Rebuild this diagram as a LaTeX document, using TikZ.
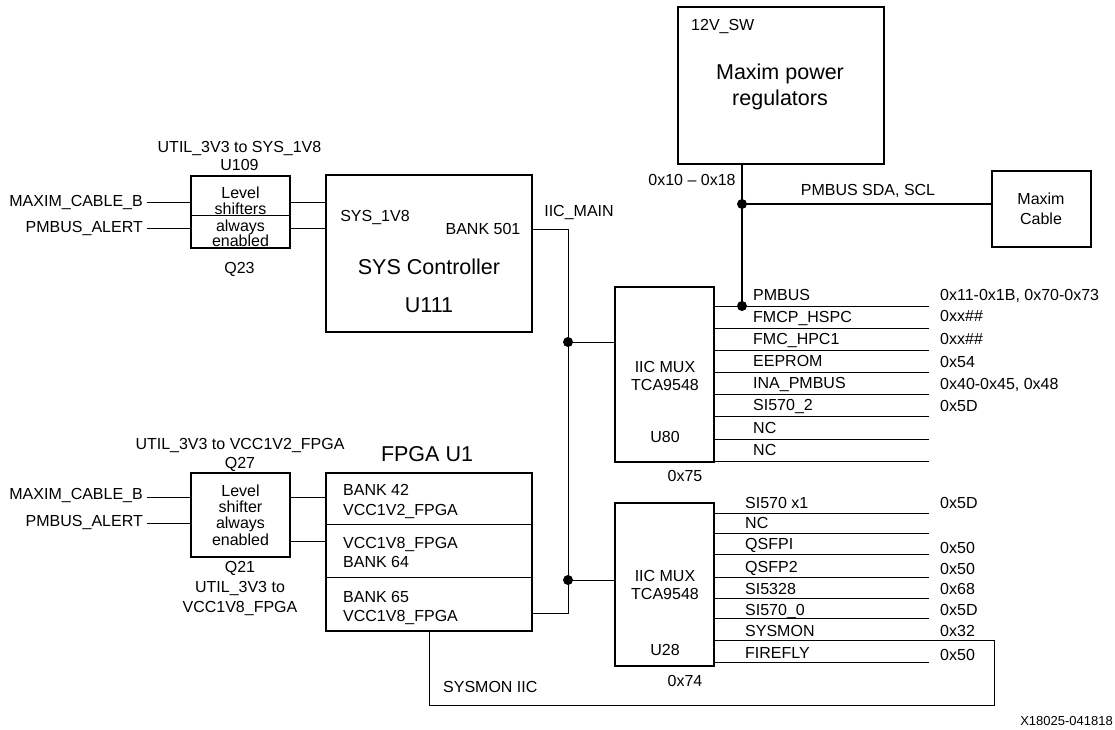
\documentclass[tikz,border=0pt]{standalone}
\usepackage{fontspec}
\setmainfont{Liberation Sans}
\begin{document}
\begin{tikzpicture}[x=1pt,y=-1pt,
  box/.style={draw, line width=2.4pt, inner sep=0pt},
  wire/.style={line width=1pt},
  bus/.style={line width=2.4pt},
  lbl/.style={inner sep=0pt, text height=11.5pt, text depth=0pt, font=\fontsize{16}{17}\selectfont},
  big/.style={inner sep=0pt, text height=15.5pt, text depth=0pt, font=\fontsize{21.5}{24}\selectfont},
  tiny/.style={inner sep=0pt, text height=9.5pt, text depth=0pt, font=\fontsize{13}{15}\selectfont},
  jdot/.style={circle, fill, inner sep=0pt, minimum size=10pt},
]
\useasboundingbox (0,0) rectangle (1115,729);

% ---------- boxes ----------
\node[box, minimum width=206pt, minimum height=157pt] (maxim) at (781,85.5) {};
\node[box, minimum width=99pt, minimum height=76pt] (cable) at (1041.5,209) {};
\node[box, minimum width=99pt, minimum height=72pt] (ls1) at (240.5,212) {};
\node[box, minimum width=206pt, minimum height=157pt] (sys) at (429,253.5) {};
\node[box, minimum width=99pt, minimum height=175pt] (mux1) at (664.5,374.5) {};
\node[box, minimum width=99pt, minimum height=84pt] (ls2) at (240.5,515) {};
\node[box, minimum width=206pt, minimum height=158pt] (fpga) at (429,552) {};
\node[box, minimum width=99pt, minimum height=163pt] (mux2) at (664.5,584.5) {};

% ---------- box texts ----------
\node[lbl, anchor=west] (t12v) at (691,25) {12V\_SW};
\node[big] (tmx1) at (780,72) {Maxim power};
\node[big] (tmx2) at (780,98) {regulators};
\node[lbl] (tcb1) at (1041,199) {Maxim};
\node[lbl] (tcb2) at (1041,219) {Cable};

\node[lbl] (tl1a) at (240.5,193) {Level};
\node[lbl] (tl1b) at (240.5,209) {shifters};
\node[lbl] (tl1c) at (240.5,226) {always};
\node[lbl] (tl1d) at (240.5,241) {enabled};
\draw[wire] (ls1.west |- 0,215) -- (ls1.east |- 0,215);

\node[lbl] (tl2a) at (240.5,491) {Level};
\node[lbl] (tl2b) at (240.5,507) {shifter};
\node[lbl] (tl2c) at (240.5,523) {always};
\node[lbl] (tl2d) at (240.5,540) {enabled};

\node[lbl] (tsys1) at (375,216) {SYS\_1V8};
\node[lbl] (tsys2) at (483,229) {BANK 501};
\node[big] (tsys3) at (429,267) {SYS Controller};
\node[big] (tsys4) at (429,305) {U111};

\node[big] (tfp) at (427,454) {FPGA U1};
\node[lbl, anchor=west] (tf1) at (343,490) {BANK 42};
\node[lbl, anchor=west] (tf2) at (343,510) {VCC1V2\_FPGA};
\node[lbl, anchor=west] (tf3) at (343,543) {VCC1V8\_FPGA};
\node[lbl, anchor=west] (tf4) at (343,562) {BANK 64};
\node[lbl, anchor=west] (tf5) at (343,597) {BANK 65};
\node[lbl, anchor=west] (tf6) at (343,616) {VCC1V8\_FPGA};
\draw[wire] (fpga.west |- 0,524) -- (fpga.east |- 0,524);
\draw[wire] (fpga.west |- 0,577) -- (fpga.east |- 0,577);

\node[lbl] (tm1a) at (665,367) {IIC MUX};
\node[lbl] (tm1b) at (665,385) {TCA9548};
\node[lbl] (tm1c) at (665,437) {U80};
\node[lbl] (tm1d) at (685,476) {0x75};

\node[lbl] (tm2a) at (665,576) {IIC MUX};
\node[lbl] (tm2b) at (665,594) {TCA9548};
\node[lbl] (tm2c) at (665,650) {U28};
\node[lbl] (tm2d) at (685,681) {0x74};

% ---------- outside labels ----------
\node[lbl] (u1a) at (239.5,147) {UTIL\_3V3 to SYS\_1V8};
\node[lbl] (u1b) at (239.5,165) {U109};
\node[lbl] (u1c) at (239.5,268) {Q23};
\node[lbl, anchor=east] (in1a) at (143,201) {MAXIM\_CABLE\_B};
\node[lbl, anchor=east] (in1b) at (143,227) {PMBUS\_ALERT};

\node[lbl] (u2a) at (240,444) {UTIL\_3V3 to VCC1V2\_FPGA};
\node[lbl] (u2b) at (240,463) {Q27};
\node[lbl] (u2c) at (240,567) {Q21};
\node[lbl] (u2d) at (240,587) {UTIL\_3V3 to};
\node[lbl] (u2e) at (240,607) {VCC1V8\_FPGA};
\node[lbl, anchor=east] (in2a) at (143,494) {MAXIM\_CABLE\_B};
\node[lbl, anchor=east] (in2b) at (143,520.5) {PMBUS\_ALERT};

\node[lbl] (tiic) at (579,211) {IIC\_MAIN};
\node[lbl] (taddr) at (692,180) {0x10 -- 0x18};
\node[lbl] (tpmb) at (868,190) {PMBUS SDA, SCL};
\node[lbl, anchor=west] (tsmi) at (443,687) {SYSMON IIC};
\node[tiny, anchor=east] (tid) at (1113,721) {X18025-041818};

% ---------- input wires ----------
\coordinate (a1) at (147,202);
\coordinate (a2) at (147,228);
\coordinate (a3) at (147,497);
\coordinate (a4) at (147,523);
\draw[wire] (a1) -- (ls1.west |- a1);
\draw[wire] (a2) -- (ls1.west |- a2);
\draw[wire] (a3) -- (ls2.west |- a3);
\draw[wire] (a4) -- (ls2.west |- a4);
\draw[wire] (ls1.east |- 0,202) -- (sys.west |- 0,202);
\draw[wire] (ls1.east |- 0,228) -- (sys.west |- 0,228);
\draw[wire] (ls2.east |- 0,497) -- (fpga.west |- 0,497);
\draw[wire] (ls2.east |- 0,541) -- (fpga.west |- 0,541);

% ---------- IIC main ----------
\coordinate (jt) at (568,229);
\coordinate (j1) at (568,342);
\coordinate (j2) at (568,580);
\coordinate (jb) at (568,613);
\draw[wire] (sys.east |- jt) -- (jt) -- (jb) -- (fpga.east |- jb);
\draw[wire] (j1) -- (mux1.west |- j1);
\draw[wire] (j2) -- (mux2.west |- j2);
\node[jdot] (d1) at (j1) {};
\node[jdot] (d2) at (j2) {};

% ---------- PMBUS from Maxim ----------
\coordinate (pj) at (742,204);
\coordinate (pm) at (742,306);
\draw[bus] (pm |- maxim.south) -- (pm);
\draw[bus] (pj) -- (cable.west |- pj);
\node[jdot] (d3) at (pj) {};
\node[jdot] (d4) at (pm) {};

% ---------- mux 1 channels ----------
\foreach \y in {306,328,350,372,394,416,439,461}
  \draw[wire] (mux1.east |- 0,\y) -- (929,\y);
\foreach \y/\t in {295/PMBUS,317/FMCP\_HSPC,339/FMC\_HPC1,361/EEPROM,383/INA\_PMBUS,405/SI570\_2,428/NC,450/NC}
  \node[lbl, anchor=west] at (753,\y) {\t};
\foreach \y/\t in {295/{0x11-0x1B, 0x70-0x73},316/0xx\#\#,339/0xx\#\#,362/0x54,384/{0x40-0x45, 0x48},406/0x5D}
  \node[lbl, anchor=west] at (940,\y) {\t};

% ---------- mux 2 channels ----------
\foreach \y in {513,533,554,577,598,618,662}
  \draw[wire] (mux2.east |- 0,\y) -- (929,\y);
\foreach \y/\t in {503/SI570 x1,523/NC,544/QSFPI,567/QSFP2,589/SI5328,610/SI570\_0,631/SYSMON,653/FIREFLY}
  \node[lbl, anchor=west] at (745,\y) {\t};
\foreach \y/\t in {503/0x5D,548/0x50,569/0x50,589/0x68,610/0x5D,631/0x32,655/0x50}
  \node[lbl, anchor=west] at (940,\y) {\t};

% ---------- SYSMON IIC loop ----------
\coordinate (s1) at (429,705);
\coordinate (s2) at (994,705);
\coordinate (s3) at (994,640);
\draw[wire] (fpga.south) -- (s1) -- (s2) -- (s3) -- (mux2.east |- s3);
\end{tikzpicture}
\end{document}
